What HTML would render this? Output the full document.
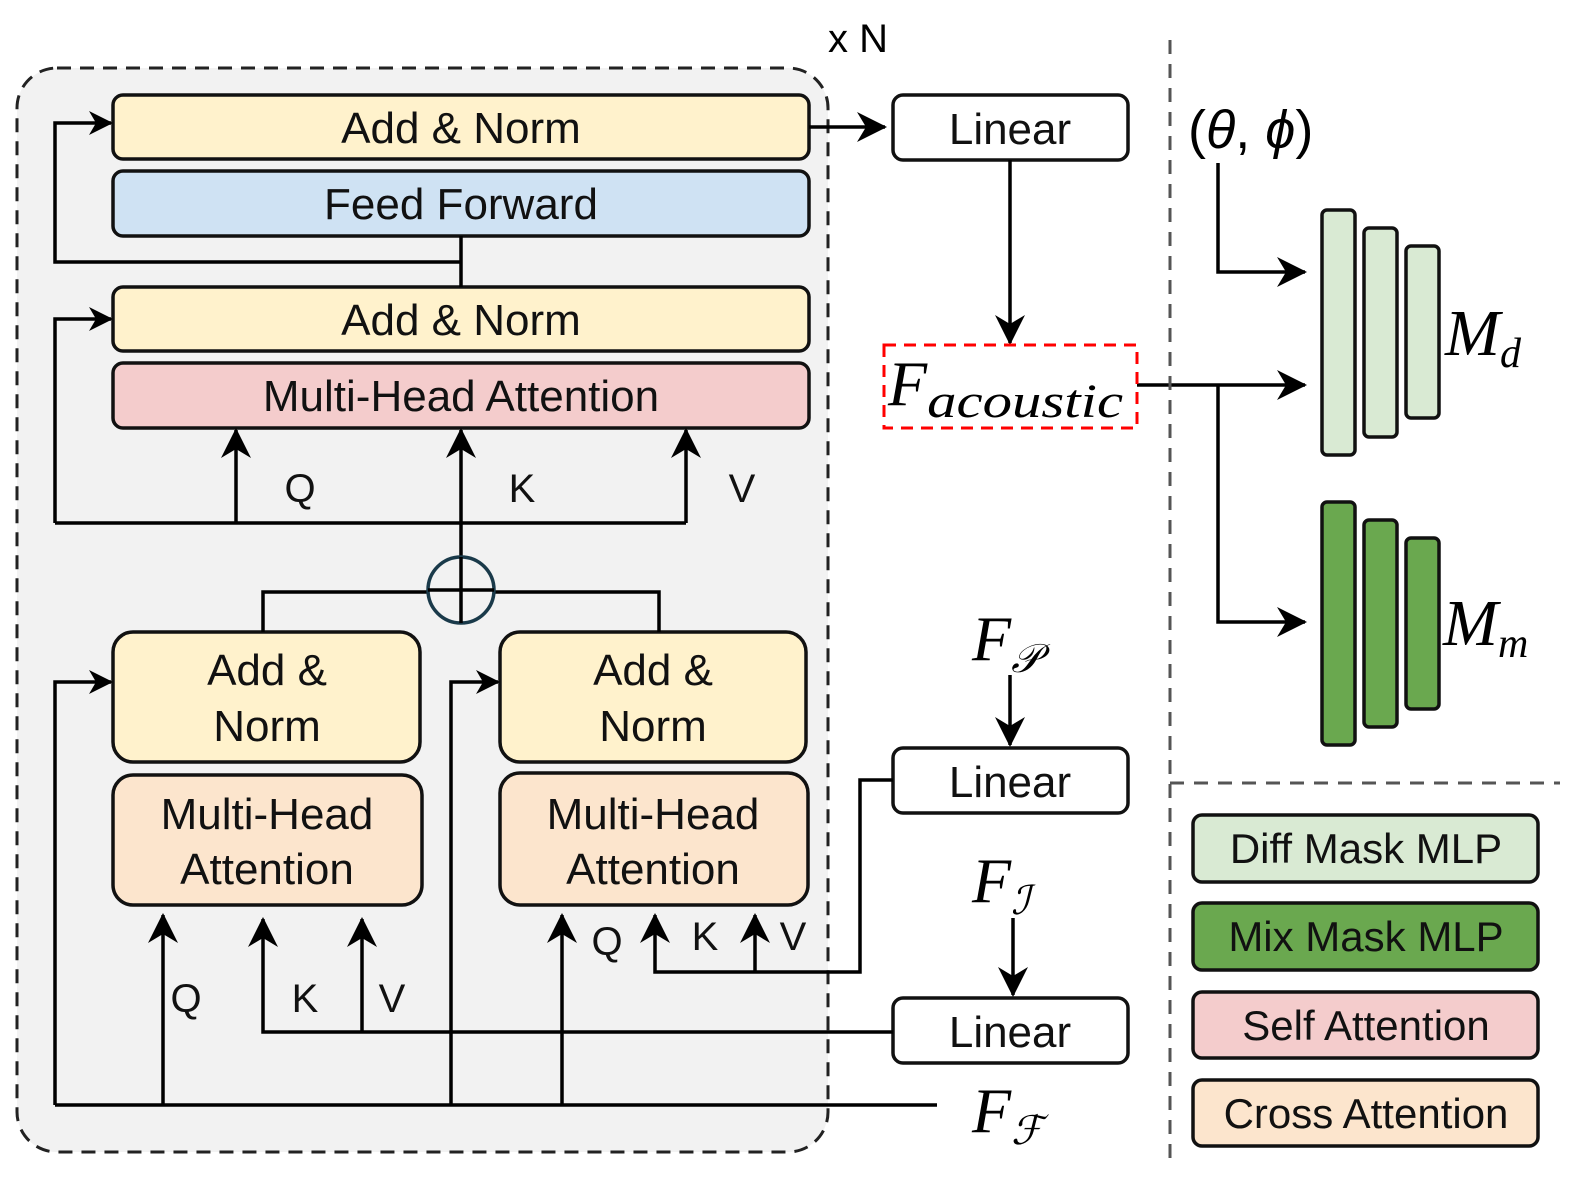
<!DOCTYPE html>
<html><head><meta charset="utf-8"><style>
html,body{margin:0;padding:0;background:#fff;}
svg text{font-family:"Liberation Sans",sans-serif;}
.m{font-family:"Liberation Serif",serif;font-style:italic;}
</style></head><body>
<svg width="1576" height="1179" viewBox="0 0 1576 1179" xmlns="http://www.w3.org/2000/svg">
<defs>
<marker id="a" viewBox="0 0 24 24" refX="22" refY="12" markerWidth="24" markerHeight="24" markerUnits="userSpaceOnUse" orient="auto">
<path d="M0,0 L24,12 L0,24 L7,12 Z" fill="#000"/></marker>
<marker id="b" viewBox="0 0 30 30" refX="28" refY="15" markerWidth="30" markerHeight="30" markerUnits="userSpaceOnUse" orient="auto">
<path d="M0,0 L30,15 L0,30 L9,15 Z" fill="#000"/></marker>
</defs>
<rect x="17" y="68" width="811" height="1084" rx="40" fill="#f2f2f2" stroke="#222" stroke-width="3" stroke-dasharray="14,9"/>
<text x="828" y="52" font-size="40">x N</text>
<g stroke="#111" stroke-width="3.5">
<rect x="113" y="95" width="696" height="64" rx="10" fill="#fff2cc"/>
<rect x="113" y="171" width="696" height="65" rx="10" fill="#cfe2f3"/>
<rect x="113" y="287" width="696" height="64" rx="10" fill="#fff2cc"/>
<rect x="113" y="363" width="696" height="65" rx="10" fill="#f4cccc"/>
<rect x="113" y="632" width="307" height="130" rx="20" fill="#fff2cc"/>
<rect x="113" y="775" width="309" height="130" rx="20" fill="#fce5cd"/>
<rect x="500" y="632" width="306" height="130" rx="20" fill="#fff2cc"/>
<rect x="500" y="773" width="308" height="132" rx="20" fill="#fce5cd"/>
<rect x="893" y="95" width="235" height="65" rx="10" fill="#fff"/>
<rect x="893" y="748" width="235" height="65" rx="10" fill="#fff"/>
<rect x="893" y="998" width="235" height="65" rx="10" fill="#fff"/>
</g>
<g font-size="44" text-anchor="middle" fill="#111">
<text x="461" y="143">Add &amp; Norm</text>
<text x="461" y="219">Feed Forward</text>
<text x="461" y="335">Add &amp; Norm</text>
<text x="461" y="411">Multi-Head Attention</text>
<text x="267" y="685">Add &amp;</text><text x="267" y="741">Norm</text>
<text x="653" y="685">Add &amp;</text><text x="653" y="741">Norm</text>
<text x="267" y="829">Multi-Head</text><text x="267" y="884">Attention</text>
<text x="653" y="829">Multi-Head</text><text x="653" y="884">Attention</text>
<text x="1010" y="144">Linear</text>
<text x="1010" y="797">Linear</text>
<text x="1010" y="1047">Linear</text>
<text x="300" y="502" font-size="40">Q</text><text x="522" y="502" font-size="40">K</text><text x="742" y="502" font-size="40">V</text>
<text x="186" y="1012" font-size="40">Q</text><text x="305" y="1012" font-size="40">K</text><text x="392" y="1012" font-size="40">V</text>
<text x="607" y="955" font-size="40">Q</text><text x="705" y="950" font-size="40">K</text><text x="793" y="950" font-size="40">V</text>
</g>
<g stroke="#000" stroke-width="3.5" fill="none">
<path d="M461,236 V287"/>
<path d="M461,262 H55 V123 H111" marker-end="url(#a)"/>
<path d="M55,523 V319 H111" marker-end="url(#a)"/>
<path d="M55,523 H686"/>
<path d="M236,523 V430" marker-end="url(#b)"/>
<path d="M461,557 V430" marker-end="url(#b)"/>
<path d="M686,523 V430" marker-end="url(#b)"/>
<path d="M263,632 V592 H428 M494,592 H659 V632"/>
<path d="M55,1105 H937"/>
<path d="M55,1105 V682 H111" marker-end="url(#a)"/>
<path d="M451,1105 V682 H498" marker-end="url(#a)"/>
<path d="M163,1105 V915" marker-end="url(#b)"/>
<path d="M562,1105 V915" marker-end="url(#b)"/>
<path d="M893,1032 H263 V919" marker-end="url(#b)"/>
<path d="M362,1032 V919" marker-end="url(#b)"/>
<path d="M893,780 H860 V972 H655 V915" marker-end="url(#b)"/>
<path d="M755,972 V915" marker-end="url(#b)"/>
<path d="M809,127 H885" marker-end="url(#b)"/>
<path d="M1010,160 V343" marker-end="url(#b)"/>
<path d="M1010,675 V745" marker-end="url(#b)"/>
<path d="M1013,918 V995" marker-end="url(#b)"/>
<path d="M1137,385 H1305" marker-end="url(#b)"/>
<path d="M1218,385 V622 H1305" marker-end="url(#b)"/>
<path d="M1218,163 V272 H1305" marker-end="url(#b)"/>
</g>
<ellipse cx="461" cy="590" rx="33" ry="33" fill="#f2f2f2" stroke="#1a3a4a" stroke-width="3.5"/>
<path d="M461,557 V623 M428,590 H494" stroke="#000" stroke-width="3.5"/>
<rect x="884" y="345" width="253" height="83" fill="none" stroke="#f00" stroke-width="3" stroke-dasharray="12,8"/>
<text class="m" x="888" y="405" font-size="64">F<tspan font-size="48" dy="12" textLength="196" lengthAdjust="spacingAndGlyphs">acoustic</tspan></text>
<text class="m" x="972" y="660" font-size="64">F<tspan font-size="40" dy="12">𝒫</tspan></text>
<text class="m" x="972" y="902" font-size="64">F<tspan font-size="40" dy="12">ℐ</tspan></text>
<text class="m" x="972" y="1132" font-size="64">F<tspan font-size="40" dy="12">ℱ</tspan></text>
<text x="1188" y="148" font-size="54" font-family="Liberation Serif,serif">(<tspan font-style="italic">θ</tspan>, <tspan font-style="italic">ϕ</tspan>)</text>
<text class="m" x="1445" y="355" font-size="66">M<tspan font-size="42" dy="12">d</tspan></text>
<text class="m" x="1443" y="645" font-size="66">M<tspan font-size="42" dy="12">m</tspan></text>
<g stroke="#111" stroke-width="3.5">
<rect x="1322" y="210" width="33" height="245" rx="5" fill="#d9ead3"/>
<rect x="1364" y="228" width="33" height="209" rx="5" fill="#d9ead3"/>
<rect x="1406" y="246" width="33" height="172" rx="5" fill="#d9ead3"/>
<rect x="1322" y="502" width="33" height="243" rx="5" fill="#6aa84f"/>
<rect x="1364" y="520" width="33" height="207" rx="5" fill="#6aa84f"/>
<rect x="1406" y="538" width="33" height="171" rx="5" fill="#6aa84f"/>
<rect x="1193" y="815" width="345" height="67" rx="9" fill="#d9ead3"/>
<rect x="1193" y="903" width="345" height="67" rx="9" fill="#6aa84f"/>
<rect x="1193" y="992" width="345" height="66" rx="9" fill="#f4cccc"/>
<rect x="1193" y="1080" width="345" height="66" rx="9" fill="#fce5cd"/>
</g>
<g font-size="42" text-anchor="middle" fill="#111">
<text x="1366" y="863">Diff Mask MLP</text>
<text x="1366" y="951">Mix Mask MLP</text>
<text x="1366" y="1040">Self Attention</text>
<text x="1366" y="1128">Cross Attention</text>
</g>
<path d="M1170,40 V1165 M1170,783 H1560" stroke="#555" stroke-width="3" stroke-dasharray="14,10" fill="none"/>
</svg>
</body></html>
